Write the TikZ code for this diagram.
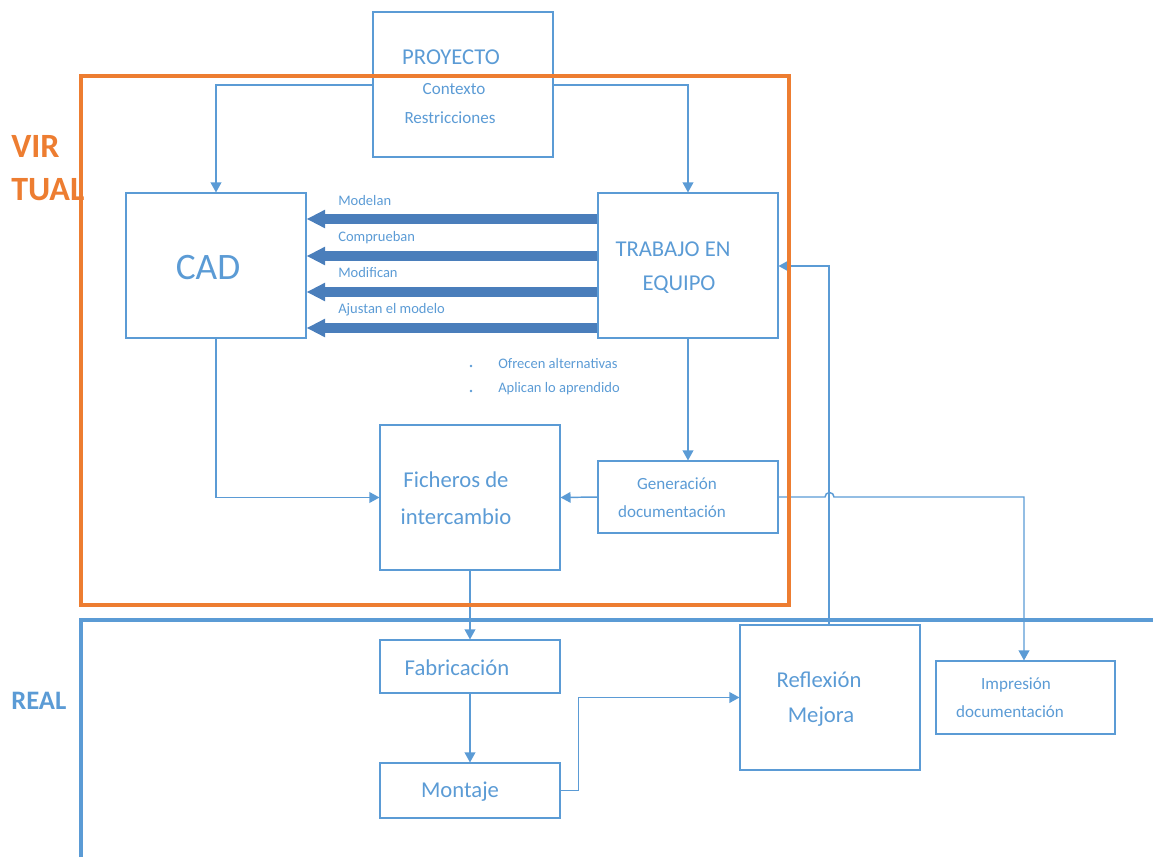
\documentclass[tikz,border=0pt]{standalone}
\usepackage{fontspec}
\setmainfont{Carlito}
\usetikzlibrary{arrows.meta}
\definecolor{txtblue}{HTML}{5B9BD5}
\definecolor{boxblue}{HTML}{5B9BD5}
\definecolor{darkarrow}{HTML}{4A7EBB}
\definecolor{frameorange}{HTML}{ED7D31}
\tikzset{
  blk/.style={draw=boxblue, line width=0.8pt, fill=none, inner sep=0pt},
  lbl/.style={text=txtblue, inner sep=0pt, font=#1},
  lbl/.default=\fontsize{12.8pt}{14pt}\selectfont,
  conn/.style={draw=boxblue, line width=1.1pt, -{Triangle[length=7.5pt,width=8pt]}},
  wire/.style={draw=boxblue, line width=1.1pt},
  bigarrow/.style={draw=darkarrow, line width=6.8pt, -{Triangle[length=14pt,width=13pt]}},
}
\begin{document}
\begin{tikzpicture}[x=0.75pt,y=-0.75pt]
\useasboundingbox (0,0) rectangle (1153,857);

% boxes
\node[blk, minimum width=180*0.75pt, minimum height=145*0.75pt] (proy) at (463,84.5) {};
\node[blk, minimum width=180*0.75pt, minimum height=145*0.75pt] (cad) at (216,265.5) {};
\node[blk, minimum width=180*0.75pt, minimum height=145*0.75pt] (team) at (688,265.5) {};
\node[blk, minimum width=180*0.75pt, minimum height=145*0.75pt] (fich) at (470,497.5) {};
\node[blk, minimum width=180*0.75pt, minimum height=72*0.75pt] (gen) at (688,497) {};
\node[blk, minimum width=180*0.75pt, minimum height=53*0.75pt] (fab) at (470,666.5) {};
\node[blk, minimum width=180*0.75pt, minimum height=55*0.75pt] (mont) at (470,790.5) {};
\node[blk, minimum width=180*0.75pt, minimum height=145*0.75pt] (refl) at (830,697.5) {};
\node[blk, minimum width=179*0.75pt, minimum height=73*0.75pt] (impr) at (1025.5,697.5) {};

% box texts
\node[lbl=\fontsize{17pt}{20pt}\selectfont] (tproy) at (451,57) {PROYECTO};
\node[lbl] (tctx) at (454,89) {Contexto};
\node[lbl] (trst) at (450,118) {Restricciones};
\node[lbl=\fontsize{28pt}{32pt}\selectfont] (tcad) at (208,268) {CAD};
\node[lbl=\fontsize{17pt}{20pt}\selectfont] (tteam1) at (673,249) {TRABAJO EN};
\node[lbl=\fontsize{17pt}{20pt}\selectfont] (tteam2) at (679,285) {EQUIPO};
\node[lbl=\fontsize{17pt}{20pt}\selectfont] (tfich1) at (456,480) {Ficheros de};
\node[lbl=\fontsize{17pt}{20pt}\selectfont] (tfich2) at (456,517) {intercambio};
\node[lbl] (tgen1) at (677,484) {Generación};
\node[lbl] (tgen2) at (672,512) {documentación};
\node[lbl=\fontsize{17pt}{20pt}\selectfont] (tfab) at (457,668) {Fabricación};
\node[lbl=\fontsize{17pt}{20pt}\selectfont] (tmont) at (460,792) {Montaje};
\node[lbl=\fontsize{17pt}{20pt}\selectfont] (trefl1) at (819,680) {Reflexión};
\node[lbl=\fontsize{17pt}{20pt}\selectfont] (trefl2) at (821,717) {Mejora};
\node[lbl] (timp1) at (1016,685) {Impresión};
\node[lbl] (timp2) at (1010,712) {documentación};

% arrow labels
\node[lbl=\fontsize{10.9pt}{12pt}\selectfont, anchor=west] (l1) at (338,201) {Modelan};
\node[lbl=\fontsize{10.9pt}{12pt}\selectfont, anchor=west] (l2) at (338,238) {Comprueban};
\node[lbl=\fontsize{10.9pt}{12pt}\selectfont, anchor=west] (l3) at (338,273) {Modifican};
\node[lbl=\fontsize{10.9pt}{12pt}\selectfont, anchor=west] (l4) at (338,310) {Ajustan el modelo};

% bullet list
\fill[txtblue] (471,366) circle (1.4);
\fill[txtblue] (471,391) circle (1.4);
\node[lbl=\fontsize{10.9pt}{12pt}\selectfont, anchor=west] (b1) at (498,364) {Ofrecen alternativas};
\node[lbl=\fontsize{10.9pt}{12pt}\selectfont, anchor=west] (b2) at (498,389) {Aplican lo aprendido};

% side titles
\node[text=frameorange, font=\fontsize{25.5pt}{28pt}\selectfont\bfseries, anchor=west, inner sep=0pt] (vir) at (11,146) {VIR};
\node[text=frameorange, font=\fontsize{25.5pt}{28pt}\selectfont\bfseries, anchor=west, inner sep=0pt] (tual) at (11,190) {TUAL};
\node[text=txtblue, font=\fontsize{20pt}{22pt}\selectfont\bfseries, anchor=west, inner sep=0pt] (real) at (11,701) {REAL};

% thick arrows from the team box to CAD
\foreach \yy in {219,256,292,328}
  \draw[bigarrow] (team.west |- 0,\yy) -- (cad.east |- 0,\yy);

% thin connectors
\draw[conn] (proy.west |- 0,85) -| (cad.north);
\draw[conn] (proy.east |- 0,85) -| (team.north);
\draw[conn] (cad.south) |- (fich.west);
\draw[conn] (team.south) -- (gen.north);
\draw[conn] (gen.west) -- (fich.east);
\draw[conn] (fich.south) -- (fab.north);
\draw[conn] (fab.south) -- (mont.north);
\draw[conn] (mont.east) -- ++(18,0) |- (refl.west);
\draw[conn] (refl.north -| 829,0) |- (team.east |- 0,266);
\draw[conn] (gen.east) -- (825,497) arc[start angle=180, end angle=360, radius=4.5] -| (impr.north -| 1024,0);

% virtual and real frames
\draw[frameorange, line width=2.3pt] (81,76) rectangle (789,605);
\coordinate (rtop) at (1153,620);
\coordinate (rbot) at (81,857);
\draw[boxblue, line width=2.3pt] (rbot) |- (rtop);
\end{tikzpicture}
\end{document}
